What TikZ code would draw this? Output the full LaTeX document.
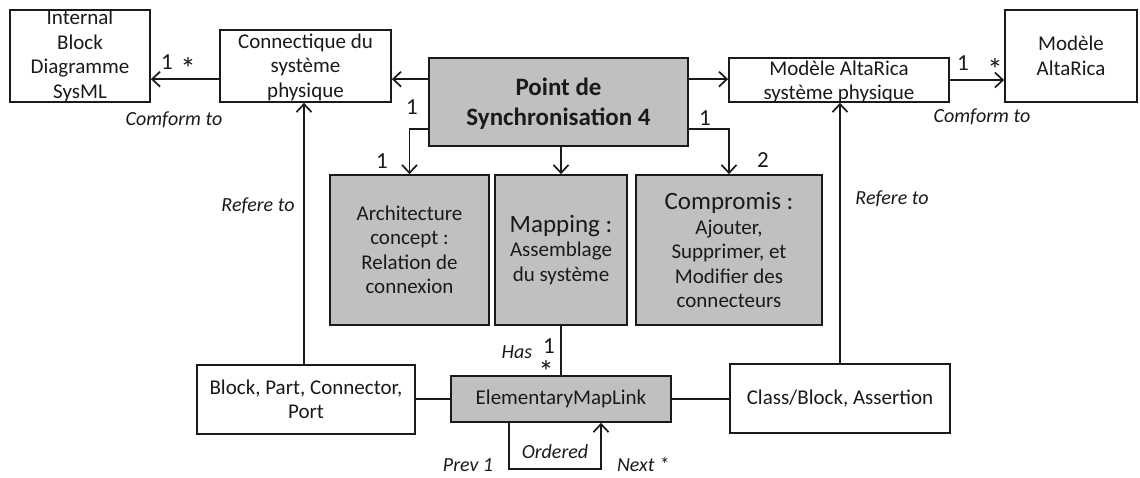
\documentclass[tikz,border=0pt]{standalone}
\usepackage{fontspec}
\setmainfont{Carlito}
\usetikzlibrary{arrows.meta}
\definecolor{boxgray}{HTML}{C0C0C0}
\definecolor{ink}{HTML}{1A1A1A}
\begin{document}
\begin{tikzpicture}[x=1pt,y=-1pt]
\tikzset{
 bx/.style={draw=ink,line width=1.7pt,fill=white,inner sep=0pt},
 gbx/.style={bx,fill=boxgray},
 txt/.style={text=ink,align=center,inner sep=0pt,font=\fontsize{21}{24.5}\selectfont},
 lbl/.style={text=ink,inner sep=0pt,font=\fontsize{23}{26}\selectfont},
 ast/.style={text=ink,inner sep=0pt,font=\fontsize{31}{33}\selectfont},
 ital/.style={text=ink,inner sep=0pt,font=\fontsize{20}{23}\selectfont\itshape},
 arr/.style={draw=ink,line width=1.7pt,-{Straight Barb[length=8pt,width=15pt]}},
 ln/.style={draw=ink,line width=1.7pt},
}
\useasboundingbox (0,0) rectangle (1140,477);

% boxes
\node[bx,minimum width=140pt,minimum height=92pt,label={[txt]center:Internal\\Block\\Diagramme\\SysML}] (IBD) at (80,56) {};
\node[bx,minimum width=171pt,minimum height=72pt,label={[txt,yshift=-1pt]center:Connectique du\\système\\physique}] (Conn) at (305.5,66) {};
\node[gbx,minimum width=259pt,minimum height=88pt,label={[txt,yshift=-2pt,font=\fontsize{25}{30}\selectfont\bfseries]center:Point de\\Synchronisation 4}] (Point) at (558.5,102) {};
\node[bx,minimum width=220pt,minimum height=44pt,label={[txt,yshift=-2pt]center:Modèle AltaRica\\système physique}] (ModSys) at (839,80) {};
\node[bx,minimum width=132pt,minimum height=92pt,label={[txt]center:Modèle\\AltaRica}] (ModAlta) at (1071,56) {};

\node[gbx,minimum width=159pt,minimum height=150pt,label={[txt]center:Architecture\\concept :\\Relation de\\connexion}] (Arch) at (409.5,250) {};
\node[gbx,minimum width=132pt,minimum height=150pt,label={[txt]center:{\fontsize{25}{29}\selectfont Mapping :}\\Assemblage\\du système}] (Map) at (561,250) {};
\node[gbx,minimum width=186pt,minimum height=150pt,label={[txt]center:{\fontsize{25}{29}\selectfont Compromis :}\\Ajouter,\\Supprimer, et\\Modifier des\\connecteurs}] (Comp) at (729,250) {};

\node[bx,minimum width=218pt,minimum height=69pt,label={[txt]center:Block, Part, Connector,\\Port}] (Block) at (306,399.5) {};
\node[bx,minimum width=220pt,minimum height=69pt,label={[txt]center:Class/Block, Assertion}] (Class) at (840,398.5) {};
\node[gbx,minimum width=220pt,minimum height=46pt,label={[txt]center:ElementaryMapLink}] (EML) at (561,399) {};

% connectors
\draw[arr] ([yshift=-22pt]Point.north west) -- ([yshift=-22pt]Point.north west -| Conn.east);
\draw[arr] ([yshift=-22pt]Point.north east) -- ([yshift=-22pt]Point.north east -| ModSys.west);
\draw[arr] ([yshift=-50pt]Conn.north west) -- ([yshift=-50pt]Conn.north west -| IBD.east);
\draw[arr] (ModSys.east) -- (ModSys.east -| ModAlta.west);

\draw[arr] ([yshift=18pt]Point.south west) -| (Arch.north);
\draw[arr] (Map.north |- Point.south) -- (Map.north);
\draw[arr] ([yshift=18pt]Point.south east) -| (Comp.north);

\draw[arr] ([xshift=-2pt]Block.north) -- ([xshift=-2pt]Block.north |- Conn.south);
\draw[arr] (Class.north) -- (Class.north |- ModSys.south);

\draw[ln] (Map.south) -- (Map.south |- EML.north);
\draw[ln] (EML.west) -- (EML.west -| Block.east);
\draw[ln] (EML.east) -- (EML.east -| Class.west);

\coordinate (lb) at ([xshift=-52pt,yshift=-46pt]EML.south);
\coordinate (rb) at ([xshift=40pt,yshift=-46pt]EML.south);
\draw[arr] ([xshift=-52pt]EML.south) -- (lb) -- (rb) -- ([xshift=40pt]EML.south);

% labels
\node[lbl] (l1) at (167,62) {1};
\node[ast] (s1) at (188,68) {*};
\node[ital] (c1) at (174,120) {Comform to};
\node[ital] (r1) at (258,206) {Refere to};

\node[lbl] (l2) at (412,107) {1};
\node[lbl] (l3) at (382,161) {1};
\node[lbl] (l4) at (705,118) {1};
\node[lbl] (l5) at (763,160) {2};

\node[lbl] (l6) at (963,63) {1};
\node[ast] (s2) at (995,69) {*};
\node[ital] (c2) at (982,117) {Comform to};
\node[ital] (r2) at (892,199) {Refere to};

\node[ital] (has) at (517,352) {Has};
\node[lbl] (l7) at (549,346) {1};
\node[ast] (s3) at (546,371) {*};
\node[ital] (ord) at (555,452) {Ordered};
\node[ital] (prev) at (468,465) {Prev 1};
\node[ital] (next) at (643,464) {Next *};
\end{tikzpicture}
\end{document}
